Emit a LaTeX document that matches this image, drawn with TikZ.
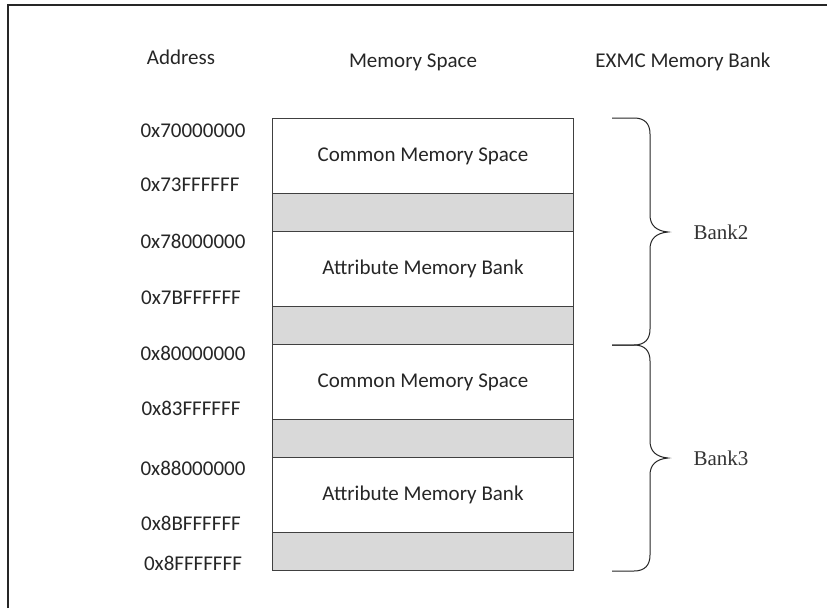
\documentclass[tikz,border=0pt]{standalone}
\usepackage{fontspec}
\setmainfont{Carlito}
\newfontfamily\bankfont{Liberation Serif}
\begin{document}
\begin{tikzpicture}[x=1pt,y=-1pt,
  lbl/.style={font=\fontsize{21}{25}\selectfont, text=black!85, inner sep=0pt},
  banklbl/.style={font=\bankfont\fontsize{21}{25}\selectfont, text=black!80, inner sep=0pt},
  memwhite/.style={draw=black!75, line width=1pt, fill=white, minimum width=301pt, minimum height=75pt, inner sep=0pt, anchor=north west, font=\fontsize{21}{25}\selectfont, text=black!85},
  memgray/.style={draw=black!75, line width=1pt, fill=gray!30, minimum width=301pt, minimum height=38pt, inner sep=0pt, anchor=north west},
  bracepath/.style={draw=black!85, line width=1pt}
]
\useasboundingbox (0,0) rectangle (827,608);
\fill[white] (0,0) rectangle (827,608);
% frame (only top and left edges visible)
\draw[line width=1.5pt, black!85] (8,608) -- (8,5) -- (827,5);

% headers
\node[lbl] (hAddr) at (181,57) {Address};
\node[lbl] (hMem) at (413,62) {Memory Space};
\node[lbl] (hBank) at (683,62) {EXMC Memory Bank};

% memory rows
\node[memwhite] (r1) at (272,118) {Common Memory Space};
\node[memgray]  (g1) at (272,193) {};
\node[memwhite] (r2) at (272,231) {Attribute Memory Bank};
\node[memgray]  (g2) at (272,306) {};
\node[memwhite] (r3) at (272,344) {Common Memory Space};
\node[memgray]  (g3) at (272,419) {};
\node[memwhite] (r4) at (272,457) {Attribute Memory Bank};
\node[memgray]  (g4) at (272,532) {};

% addresses
\node[lbl] (a1) at (193,131) {0x70000000};
\node[lbl] (a2) at (190,185) {0x73FFFFFF};
\node[lbl] (a3) at (193,241) {0x78000000};
\node[lbl] (a4) at (191,298) {0x7BFFFFFF};
\node[lbl] (a5) at (193,353) {0x80000000};
\node[lbl] (a6) at (191,408) {0x83FFFFFF};
\node[lbl] (a7) at (193,468) {0x88000000};
\node[lbl] (a8) at (191,523) {0x8BFFFFFF};
\node[lbl] (a9) at (193,563) {0x8FFFFFFF};

% braces
\coordinate (b2t) at (612,118);
\coordinate (b2b) at (612,345);
\coordinate (b3b) at (612,571);
\draw[bracepath] (b2t) -- (634,118) .. controls (645,118) and (650,124) .. (650,134)
  -- (650,215) .. controls (650,225) and (656,231) .. (668,232)
  .. controls (656,233) and (650,239) .. (650,249)
  -- (650,329) .. controls (650,339) and (645,345) .. (634,345) -- (b2b);
\draw[bracepath] (b2b) -- (634,345) .. controls (645,345) and (650,351) .. (650,361)
  -- (650,441) .. controls (650,451) and (656,457) .. (668,458)
  .. controls (656,459) and (650,465) .. (650,475)
  -- (650,555) .. controls (650,565) and (645,571) .. (634,571) -- (b3b);

\node[banklbl] (bank2) at (721,232) {Bank2};
\node[banklbl] (bank3) at (721,458) {Bank3};
\end{tikzpicture}
\end{document}
